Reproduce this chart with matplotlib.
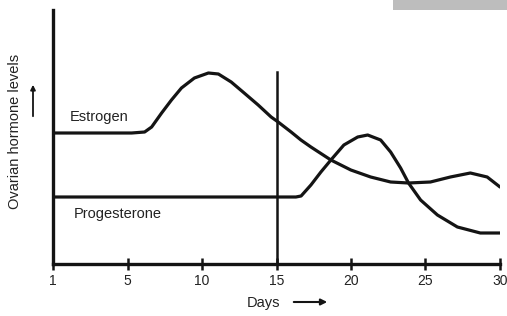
import matplotlib
matplotlib.use("Agg")
import matplotlib.pyplot as plt
from matplotlib.patches import Rectangle

plt.rcParams['font.family'] = ['Liberation Sans', 'DejaVu Sans']

# values (day index 0 = day "1", level in arbitrary units)
estrogen_days = [0, 5.28, 6.15, 6.62, 7.29, 7.95, 8.62, 9.49, 10.43, 11.10, 11.96,
                 12.83, 13.77, 14.64, 15.11, 15.98, 16.64, 17.31, 18.65, 19.99,
                 21.32, 22.66, 23.86, 25.33, 26.67, 28.01, 29.14, 30.0]
estrogen_level = [131, 131, 132, 137, 151, 164, 176, 186, 191, 190, 182,
                  171, 159, 147, 142, 132, 124, 117, 104, 94,
                  87, 82, 81, 82, 87, 91, 87, 77]

progesterone_days = [0, 16.3, 16.65, 17.31, 17.98, 18.65, 19.52, 20.45, 21.12,
                     21.99, 22.66, 23.33, 23.86, 24.67, 25.80, 27.14, 28.68, 30.0]
progesterone_level = [67, 67, 68, 79, 92, 104, 119, 127, 129,
                      124, 112, 96, 81, 64, 49, 37, 31, 31]

tick_pos = [0, 5, 10, 15, 20, 25, 30]
tick_labels = ['1', '5', '10', '15', '20', '25', '30']
ovulation_day = 15
ovulation_top = 192

fig = plt.figure(figsize=(5.07, 3.16), dpi=100)
ax = fig.add_axes([53 / 507, 52 / 316, 447 / 507, 254 / 316])

ink = '#141414'
ax.plot(estrogen_days, estrogen_level, color=ink, lw=2.3,
        solid_capstyle='round', solid_joinstyle='round')
ax.plot(progesterone_days, progesterone_level, color=ink, lw=2.3,
        solid_capstyle='round', solid_joinstyle='round')
ax.plot([ovulation_day, ovulation_day], [0, ovulation_top], color=ink, lw=1.8)

ax.set_xlim(0, 30)
ax.set_ylim(0, 254)
for s in ['top', 'right']:
    ax.spines[s].set_visible(False)
for s in ['left', 'bottom']:
    ax.spines[s].set_linewidth(2.4)
    ax.spines[s].set_color(ink)

ax.set_xticks(tick_pos)
ax.set_xticklabels(tick_labels, fontsize=10, color='#222222')
ax.tick_params(axis='x', direction='inout', length=9, width=1.8, pad=3, color=ink)
ax.set_yticks([])

ax.text(1.1, 147, 'Estrogen', fontsize=10.5, color='#222222', va='center', ha='left')
ax.text(1.4, 50, 'Progesterone', fontsize=10.5, color='#222222', va='center', ha='left')

fig.text(15 / 507, 1 - 131 / 316, 'Ovarian hormone levels', rotation=90,
         fontsize=10.5, color='#222222', ha='center', va='center')
fig.text(263 / 507, 1 - 303 / 316, 'Days', fontsize=10.5, color='#222222',
         ha='center', va='center')
# grey scan strip in the top-right corner
fig.patches.append(Rectangle((393 / 507, 1 - 10 / 316), 114 / 507, 10 / 316,
                             transform=fig.transFigure, facecolor='#bdbdbd',
                             edgecolor='none'))

ax.annotate('', xy=(330 / 507, 1 - 302 / 316), xytext=(291 / 507, 1 - 302 / 316),
            xycoords='figure fraction', textcoords='figure fraction',
            arrowprops=dict(arrowstyle='-|>', color=ink, lw=1.5, mutation_scale=9))
ax.annotate('', xy=(33 / 507, 1 - 82 / 316), xytext=(33 / 507, 1 - 119 / 316),
            xycoords='figure fraction', textcoords='figure fraction',
            arrowprops=dict(arrowstyle='-|>', color=ink, lw=1.3, mutation_scale=7))

fig.savefig('out.png', dpi=100, facecolor='white')
